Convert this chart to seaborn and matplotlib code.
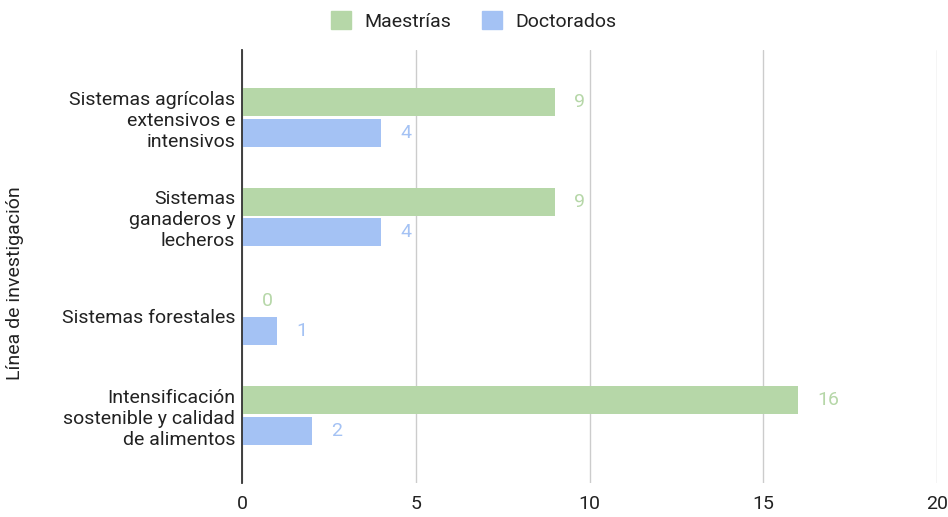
import pandas as pd
import matplotlib
matplotlib.use('Agg')
import matplotlib.pyplot as plt
import seaborn as sns

# --- Data ---
categories = ['Sistemas agrícolas\nextensivos e\nintensivos',
              'Sistemas\nganaderos y\nlecheros',
              'Sistemas forestales',
              'Intensificación\nsostenible y calidad\nde alimentos']
maestrias = [9, 9, 0, 16]
doctorados = [4, 4, 1, 2]
series = ['Maestrías', 'Doctorados']
colors = ['#b6d7a8', '#a4c2f4']
x_ticks = [0, 5, 10, 15, 20]

df = pd.DataFrame({
    'linea': categories * 2,
    'valor': maestrias + doctorados,
    'tipo': [series[0]] * len(categories) + [series[1]] * len(categories),
})

sns.set_theme(style='white')
plt.rcParams['font.family'] = ['Roboto', 'DejaVu Sans']

fig = plt.figure(figsize=(9.48, 5.17), dpi=100)
ax = fig.add_axes([0.2553, 0.0658, 0.7331, 0.8375])

sns.barplot(data=df, y='linea', x='valor', hue='tipo', palette=colors,
            orient='h', width=0.614, gap=0.08, ax=ax, legend=False,
            saturation=1, linewidth=0)

for cont, col in zip(ax.containers, colors):
    ax.bar_label(cont, padding=14, color=col, fontsize=14)

ax.set_xlim(0, 20)
ax.set_ylim(3.68, -0.68)
ax.set_xticks(x_ticks)
ax.set_xticklabels([str(t) for t in x_ticks], fontsize=14, color='#222222')
ax.tick_params(axis='y', labelsize=14, labelcolor='#222222', length=0, pad=5)
ax.tick_params(axis='x', length=0, pad=9)
ax.grid(axis='x', color='#cccccc', linewidth=1)
ax.set_axisbelow(True)
for s in ['top', 'right', 'bottom']:
    ax.spines[s].set_visible(False)
ax.spines['left'].set_color('#333333')
ax.spines['left'].set_linewidth(1.3)
ax.set_xlabel('')
ax.set_ylabel('')

fig.text(15 / 948, 1 - 283 / 517, 'Línea de investigación', rotation=90,
         ha='center', va='center', fontsize=14, color='#222222')

handles = [plt.Rectangle((0, 0), 1, 1, color=c) for c in colors]
fig.legend(handles, series, loc='upper center', bbox_to_anchor=(0.5, 1.012),
           ncol=2, frameon=False, fontsize=14, handlelength=1.0,
           handleheight=1.0, columnspacing=1.6, handletextpad=0.7,
           labelcolor='#222222')

fig.savefig('out.png', dpi=100)
